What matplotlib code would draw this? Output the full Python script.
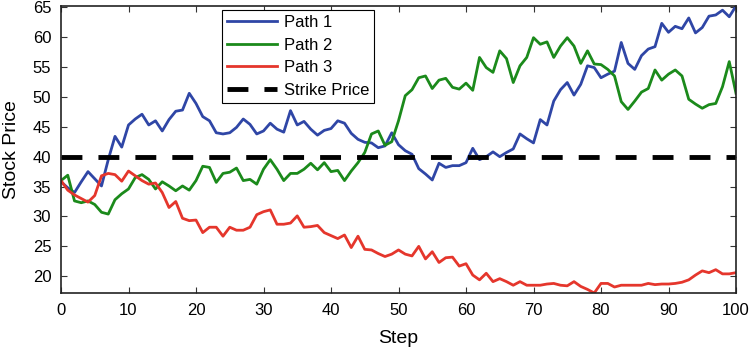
import numpy as np
import matplotlib
matplotlib.use('Agg')
import matplotlib.pyplot as plt

plt.rcParams['font.family'] = ['Liberation Sans Narrow', 'Liberation Sans', 'DejaVu Sans']

steps = np.arange(0, 101)
strike = 40

path1 = [35.8, 34.8, 34.0, 35.8, 37.5, 36.3, 35.1, 39.5, 43.4, 41.6,
         45.3, 46.3, 47.1, 45.3, 46.0, 44.3, 46.2, 47.6, 47.8, 50.6,
         48.9, 46.7, 46.0, 44.0, 43.8, 44.0, 44.9, 46.3, 45.4, 43.8,
         44.3, 45.6, 44.6, 44.1, 47.7, 45.3, 45.9, 44.6, 43.6, 44.4,
         44.7, 46.0, 45.6, 43.9, 42.9, 42.4, 42.3, 41.5, 41.8, 44.0,
         42.0, 41.0, 40.4, 38.0, 37.1, 36.1, 38.9, 38.2, 38.5, 38.5,
         39.0, 41.4, 39.5, 40.0, 40.8, 40.0, 40.7, 41.3, 43.8, 43.0,
         42.3, 46.2, 45.3, 49.3, 51.2, 52.4, 50.3, 52.1, 55.2, 54.9,
         53.2, 53.8, 54.3, 59.1, 55.6, 54.6, 56.9, 58.0, 58.4, 62.3,
         60.8, 61.8, 61.4, 63.2, 60.7, 61.6, 63.5, 63.7, 64.5, 63.4,
         65.2]

path2 = [36.0, 36.9, 32.6, 32.3, 32.6, 32.0, 30.7, 30.4, 32.8, 33.8,
         34.6, 36.5, 37.0, 36.2, 34.6, 35.8, 35.1, 34.3, 35.1, 34.4,
         36.0, 38.4, 38.2, 35.7, 37.2, 37.4, 38.1, 36.0, 36.2, 35.4,
         37.9, 39.5, 37.9, 36.0, 37.2, 37.2, 37.9, 38.9, 37.8, 39.0,
         37.5, 37.7, 36.0, 37.6, 39.0, 40.7, 43.8, 44.3, 41.9, 42.5,
         46.0, 50.2, 51.2, 53.2, 53.5, 51.4, 52.8, 53.1, 51.6, 51.3,
         52.3, 51.1, 56.6, 54.9, 54.1, 57.7, 56.4, 52.4, 55.2, 56.6,
         59.9, 58.8, 59.2, 56.6, 58.5, 59.9, 58.5, 55.6, 57.7, 55.5,
         55.4, 54.6, 53.5, 49.2, 47.9, 49.3, 50.8, 51.4, 54.5, 52.8,
         53.8, 54.5, 53.5, 49.6, 48.8, 48.1, 48.7, 48.9, 51.7, 55.9,
         50.6]

path3 = [36.0, 34.4, 33.6, 33.0, 32.4, 33.5, 36.8, 37.2, 37.0, 35.9,
         37.6, 36.8, 36.0, 35.4, 35.6, 34.0, 31.5, 32.5, 29.7, 29.3,
         29.4, 27.3, 28.2, 28.2, 26.7, 28.2, 27.7, 27.7, 28.2, 30.3,
         30.8, 31.1, 28.7, 28.7, 28.9, 30.1, 28.2, 28.3, 28.5, 27.3,
         26.8, 26.3, 26.9, 24.8, 26.7, 24.5, 24.4, 23.8, 23.3, 23.7,
         24.4, 23.7, 23.4, 25.0, 22.9, 24.1, 22.3, 23.1, 23.2, 21.7,
         22.1, 20.2, 19.4, 20.5, 19.1, 19.6, 19.1, 18.5, 19.1, 18.5,
         18.5, 18.5, 18.7, 18.8, 18.5, 18.4, 19.1, 18.3, 17.8, 17.2,
         18.8, 18.8, 18.2, 18.5, 18.5, 18.5, 18.5, 18.8, 18.6, 18.7,
         18.7, 18.8, 19.0, 19.4, 20.2, 20.9, 20.6, 21.1, 20.4, 20.4,
         20.6]

fig = plt.figure(figsize=(7.49, 3.51), dpi=100)
ax = fig.add_axes([61/749, 1-293/351, 675/749, 287/351])

ax.plot(steps, path1, color='#2f46a6', lw=2.0, label='Path 1')
ax.plot(steps, path2, color='#1b8a1b', lw=2.0, label='Path 2')
ax.plot(steps, path3, color='#e5362c', lw=2.0, label='Path 3')
ax.axhline(strike, color='black', lw=3.5, dashes=(4.3, 3.3), label='Strike Price')

all_vals = np.concatenate([path1, path2, path3])
ax.set_xlim(0, 100)
ax.set_ylim(all_vals.min(), all_vals.max())
ax.set_xticks(np.arange(0, 101, 10))
ax.set_yticks(np.arange(20, 66, 5))
ax.tick_params(direction='in', top=True, right=True, labelsize=12, length=4,
               width=0.8, color='#333333', pad=7)
for s in ax.spines.values():
    s.set_linewidth(1.2)
    s.set_color('#222222')

ax.set_xlabel('Step', fontsize=14, labelpad=9)
ax.set_ylabel('Stock Price', fontsize=14, labelpad=9)

leg = ax.legend(loc='upper left', bbox_to_anchor=(0.239, 0.986), fontsize=12,
                handlelength=3.0, fancybox=False, framealpha=1,
                edgecolor='black', borderpad=0.3, labelspacing=0.45,
                borderaxespad=0, handletextpad=0.4)
leg.get_frame().set_linewidth(0.8)

fig.savefig('out.png', dpi=100)
